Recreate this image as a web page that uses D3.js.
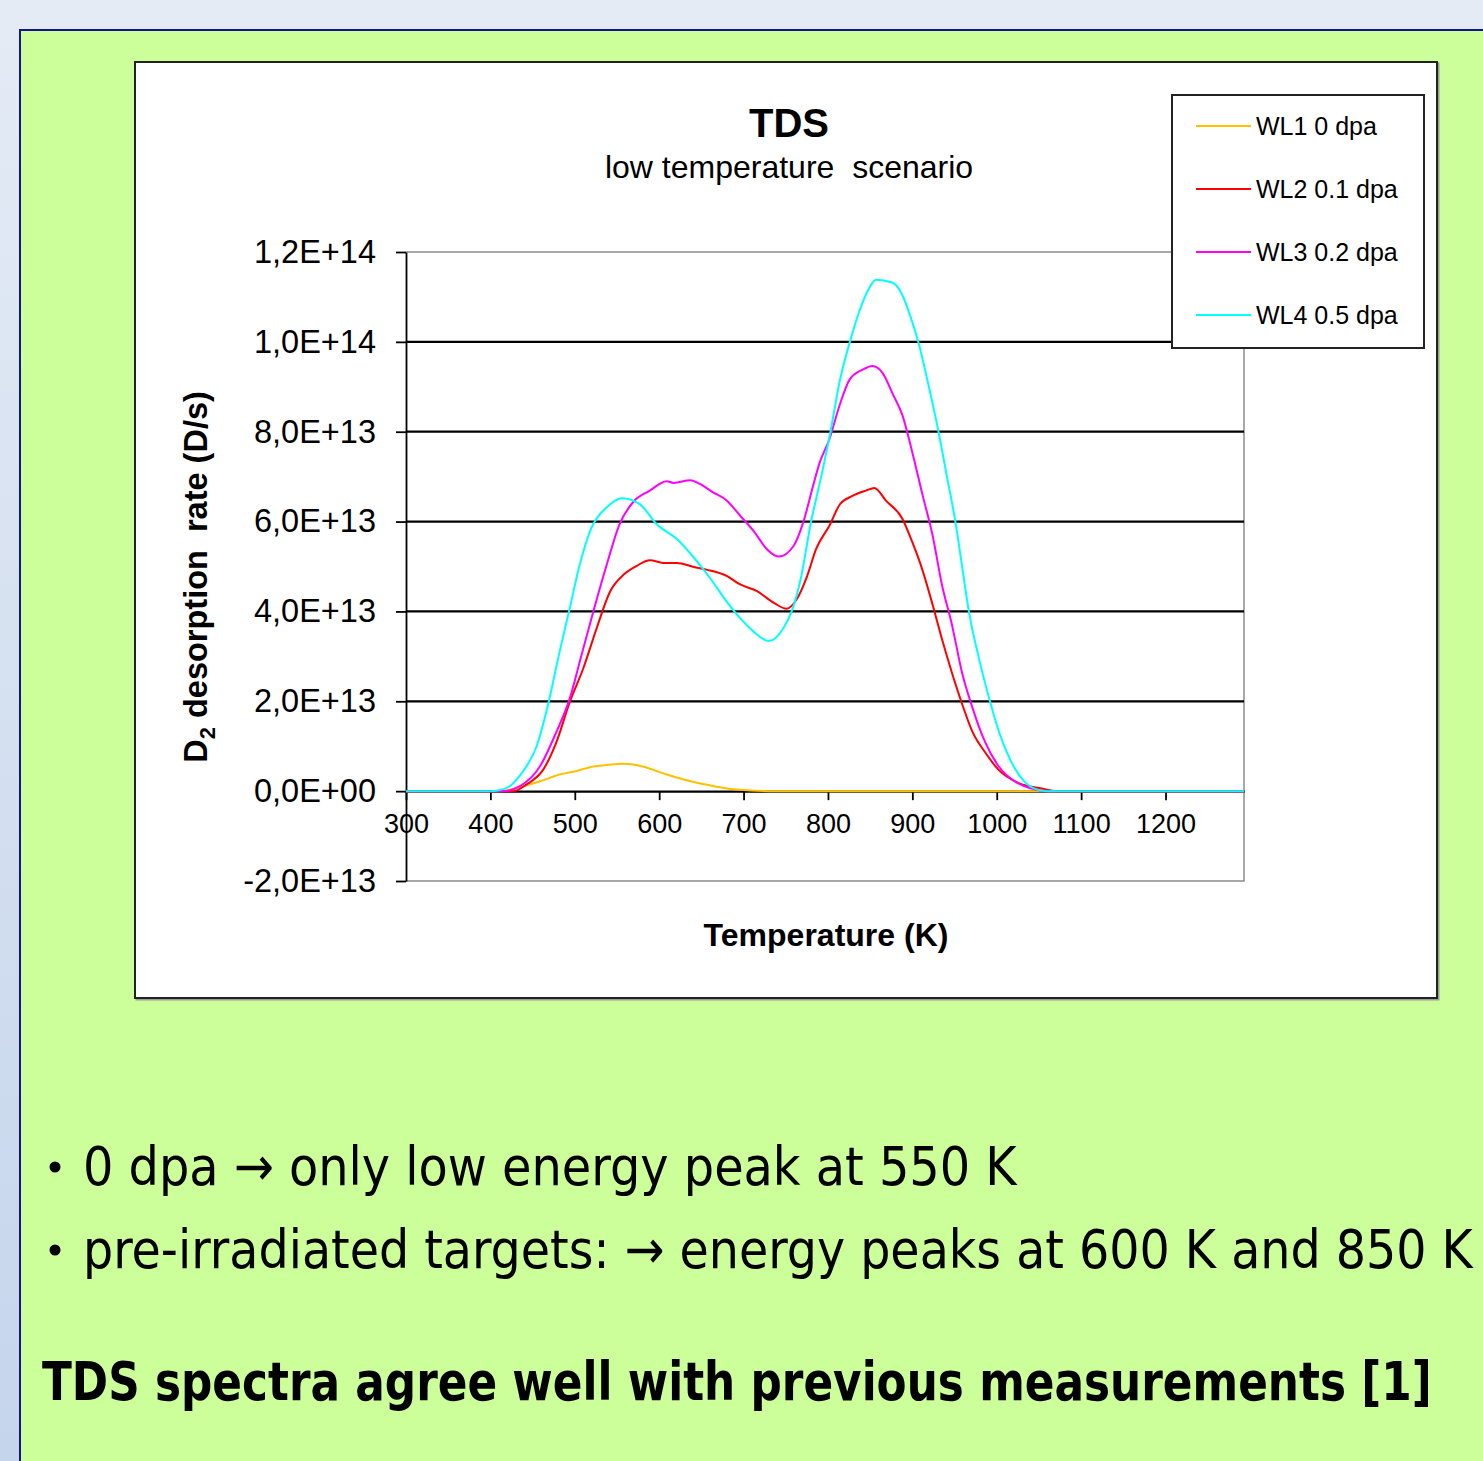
<!DOCTYPE html>
<html>
<head>
<meta charset="utf-8">
<script src="https://cdn.jsdelivr.net/npm/d3@7"></script>
<style>
  html, body { margin: 0; padding: 0; background: #e3eaf4; }
  svg { display: block; }
  text { white-space: pre; }
</style>
</head>
<body>
<svg id="slide" width="1483" height="1461"></svg>
<script>
// TDS spectra: D2 desorption rate (in units of 1E13 D/s) versus temperature (K)
const UNIT = 1e13;

const wl1Temp = [300, 410, 431, 459, 482, 502, 522, 538, 556, 573, 589, 609, 629, 649, 668, 688, 708, 740, 1293];
const wl1Rate = [0, 0, 0.07, 0.22, 0.37, 0.45, 0.55, 0.58, 0.61, 0.58, 0.5, 0.37, 0.26, 0.17, 0.1, 0.04, 0.015, 0, 0];

const wl2Temp = [300, 427, 443, 463, 478, 494, 510, 526, 542, 558, 573, 589, 605, 621, 641, 656, 680, 696, 716, 736, 751, 763, 775, 786, 802, 814, 829, 845, 855, 869, 888, 900, 912, 924, 935, 947, 959, 971, 986, 1002, 1026, 1053, 1072, 1293];
const wl2Rate = [0, 0, 0.15, 0.49, 1.08, 1.98, 2.73, 3.63, 4.45, 4.82, 5.01, 5.14, 5.08, 5.08, 4.99, 4.93, 4.79, 4.6, 4.45, 4.19, 4.06, 4.27, 4.77, 5.39, 5.92, 6.38, 6.57, 6.69, 6.75, 6.46, 6.07, 5.54, 4.92, 4.15, 3.39, 2.63, 1.94, 1.33, 0.87, 0.48, 0.18, 0.06, 0, 0];

const wl3Temp = [300, 415, 435, 459, 478, 494, 508, 522, 538, 553, 569, 589, 609, 617, 637, 648, 664, 680, 696, 712, 728, 742, 759, 771, 782, 790, 802, 814, 826, 841, 853, 865, 877, 888, 900, 912, 924, 935, 947, 959, 971, 986, 1002, 1022, 1041, 1061, 1293];
const wl3Rate = [0, 0, 0.11, 0.56, 1.31, 2.06, 3.03, 4.0, 5.05, 5.94, 6.43, 6.69, 6.9, 6.86, 6.92, 6.84, 6.65, 6.47, 6.13, 5.79, 5.38, 5.22, 5.45, 6.0, 6.77, 7.3, 7.85, 8.6, 9.17, 9.38, 9.46, 9.3, 8.83, 8.38, 7.54, 6.6, 5.69, 4.6, 3.7, 2.63, 1.87, 1.1, 0.56, 0.21, 0.06, 0, 0];

const wl4Temp = [300, 400, 410, 423, 433, 443, 455, 468, 482, 494, 506, 520, 538, 556, 577, 597, 621, 641, 660, 680, 696, 712, 730, 747, 757, 768, 780, 792, 803, 814, 826, 837, 849, 857, 876, 888, 898, 907, 919, 931, 941, 951, 959, 967, 979, 992, 1003, 1016, 1031, 1047, 1060, 1293];
const wl4Rate = [0, 0, 0.02, 0.11, 0.3, 0.56, 1.01, 1.9, 3.1, 4.07, 5.05, 5.87, 6.32, 6.52, 6.39, 5.94, 5.61, 5.2, 4.75, 4.22, 3.85, 3.55, 3.34, 3.62, 4.0, 4.75, 6.0, 7.0, 8.0, 9.13, 10.0, 10.67, 11.2, 11.38, 11.32, 11.05, 10.55, 10.0, 9.05, 8.0, 7.0, 6.0, 5.0, 4.0, 2.95, 2.0, 1.3, 0.7, 0.25, 0.04, 0, 0];

const seriesNames = ["WL1 0 dpa", "WL2 0.1 dpa", "WL3 0.2 dpa", "WL4 0.5 dpa"];
const seriesColors = ["#ffc000", "#ff0000", "#ff00ff", "#00ffff"];

const xTicks = [300, 400, 500, 600, 700, 800, 900, 1000, 1100, 1200];
const yTicks = [-2e13, 0, 2e13, 4e13, 6e13, 8e13, 1e14, 1.2e14];

const bulletLines = [
  "0 dpa \u2192 only low energy peak at 550 K",
  "pre-irradiated targets: \u2192 energy peaks at 600 K and 850 K"
];
const conclusion = "TDS spectra agree well with previous measurements [1]";

const series = [
  { temp: wl1Temp, rate: wl1Rate },
  { temp: wl2Temp, rate: wl2Rate },
  { temp: wl3Temp, rate: wl3Rate },
  { temp: wl4Temp, rate: wl4Rate }
].map((s, i) => ({
  name: seriesNames[i],
  color: seriesColors[i],
  points: s.temp.map((t, j) => ({ t, v: s.rate[j] * UNIT }))
}));

const svg = d3.select("#slide");

// slide background
const defs = svg.append("defs");
const bg = defs.append("linearGradient").attr("id", "bg").attr("x1", 0).attr("y1", 0).attr("x2", 0).attr("y2", 1);
bg.append("stop").attr("offset", "0%").attr("stop-color", "#e4ebf5");
bg.append("stop").attr("offset", "100%").attr("stop-color", "#c5d5ec");
svg.append("rect").attr("width", 1483).attr("height", 1461).attr("fill", "url(#bg)");

// green content panel
svg.append("rect")
  .attr("x", 20).attr("y", 30).attr("width", 1500).attr("height", 1500)
  .attr("fill", "#ccff99").attr("stroke", "#14148c").attr("stroke-width", 2);

// chart frame
svg.append("rect")
  .attr("x", 136.5).attr("y", 63.5).attr("width", 1302).attr("height", 936)
  .attr("fill", "none").attr("stroke", "#9a9a9a").attr("stroke-width", 2);
svg.append("rect")
  .attr("x", 135).attr("y", 62).attr("width", 1302).attr("height", 936)
  .attr("fill", "#ffffff").attr("stroke", "#222").attr("stroke-width", 2);

const x = d3.scaleLinear().domain([300, 1293]).range([406, 1244]);
const y = d3.scaleLinear().domain([-2e13, 1.2e14]).range([881, 252]);

const fmtE = v => {
  const [m, e] = v.toExponential(1).split("e");
  const sign = e[0] === "-" ? "-" : "+";
  const ex = e.replace(/[+-]/, "").padStart(2, "0");
  return m.replace(".", ",") + "E" + sign + ex;
};

const chartFont = "'Liberation Sans', Arial, sans-serif";

// plot area border (top, right, bottom)
svg.append("path")
  .attr("d", `M${x(300)},${y(1.2e14)}H${x(1293)}V${y(-2e13)}H${x(300)}`)
  .attr("fill", "none").attr("stroke", "#8c8c8c").attr("stroke-width", 1.5);

// horizontal gridlines
svg.append("g").selectAll("line")
  .data(yTicks.filter(v => v > 0 && v < 1.2e14))
  .join("line")
  .attr("x1", x(300)).attr("x2", x(1293))
  .attr("y1", d => y(d)).attr("y2", d => y(d))
  .attr("stroke", "#000").attr("stroke-width", 2.2);

// y axis
const yAxis = svg.append("g")
  .attr("transform", `translate(${x(300)},0)`)
  .call(d3.axisLeft(y).tickValues(yTicks).tickFormat(fmtE).tickSizeInner(10).tickSizeOuter(0).tickPadding(20));
yAxis.select(".domain").attr("stroke", "#000").attr("stroke-width", 1.8);
yAxis.selectAll(".tick line").attr("stroke", "#000").attr("stroke-width", 1.8);
yAxis.selectAll(".tick text")
  .attr("font-family", chartFont).attr("font-size", 32.5).attr("fill", "#000");

// x axis at zero
const xAxis = svg.append("g")
  .attr("transform", `translate(0,${y(0)})`)
  .call(d3.axisBottom(x).tickValues(xTicks).tickFormat(d3.format("d")).tickSizeInner(9).tickSizeOuter(0).tickPadding(14));
xAxis.select(".domain").attr("stroke", "#000").attr("stroke-width", 2.2);
xAxis.selectAll(".tick line").attr("stroke", "#000").attr("stroke-width", 1.8);
xAxis.selectAll(".tick text")
  .attr("font-family", chartFont).attr("font-size", 27).attr("fill", "#000");

// spectra
const line = d3.line().x(d => x(d.t)).y(d => y(d.v)).curve(d3.curveMonotoneX);
svg.append("g").selectAll("path")
  .data(series)
  .join("path")
  .attr("d", d => line(d.points))
  .attr("fill", "none")
  .attr("stroke", d => d.color)
  .attr("stroke-width", 2)
  .attr("stroke-linejoin", "round");

// titles
svg.append("text").attr("x", 789).attr("y", 137).attr("text-anchor", "middle")
  .attr("font-family", chartFont).attr("font-weight", "bold").attr("font-size", 40)
  .text("TDS");
svg.append("text").attr("x", 789).attr("y", 178).attr("text-anchor", "middle")
  .attr("font-family", chartFont).attr("font-size", 32)
  .text("low temperature  scenario");
svg.append("text").attr("x", 826).attr("y", 946).attr("text-anchor", "middle")
  .attr("font-family", chartFont).attr("font-weight", "bold").attr("font-size", 32)
  .text("Temperature (K)");
const yTitle = svg.append("text")
  .attr("transform", "translate(207,577) rotate(-90)")
  .attr("text-anchor", "middle")
  .attr("font-family", chartFont).attr("font-weight", "bold").attr("font-size", 32.5);
yTitle.append("tspan").text("D");
yTitle.append("tspan").attr("font-size", 22).attr("dy", 8).text("2");
yTitle.append("tspan").attr("dy", -8).text(" desorption  rate (D/s)");

// legend
const legend = svg.append("g");
legend.append("rect")
  .attr("x", 1172).attr("y", 95).attr("width", 252).attr("height", 253)
  .attr("fill", "#fff").attr("stroke", "#222").attr("stroke-width", 2);
const legendRows = [126, 189, 252, 315];
const item = legend.selectAll("g.item").data(series).join("g").attr("class", "item")
  .attr("transform", (d, i) => `translate(0,${legendRows[i]})`);
item.append("line").attr("x1", 1196).attr("x2", 1251)
  .attr("stroke", d => d.color).attr("stroke-width", 2);
item.append("text").attr("x", 1256).attr("y", 9)
  .attr("font-family", chartFont).attr("font-size", 25).attr("fill", "#000")
  .text(d => d.name);

// slide text: narrow, tall lettering fitted to each line's width
const slideFont = "'DejaVu Sans Condensed', 'DejaVu Sans', sans-serif";
const BASE = 54;
function fittedText(txt, x0, baseline, width, bold) {
  const t = svg.append("text")
    .attr("font-family", slideFont)
    .attr("font-weight", bold ? "bold" : "normal")
    .attr("font-size", BASE).attr("fill", "#000")
    .text(txt);
  const w = t.node().getComputedTextLength();
  const fs = BASE * width / w;
  t.attr("font-size", fs)
    .attr("transform", `translate(${x0},${baseline}) scale(1,${BASE / fs})`);
  return t;
}
const bulletY = [1185, 1268];
const bulletW = [934, 1390];
bulletLines.forEach((txt, i) => {
  svg.append("circle").attr("cx", 55).attr("cy", bulletY[i] - 18).attr("r", 5.5).attr("fill", "#000");
  fittedText(txt, 83, bulletY[i], bulletW[i], false);
});
fittedText(conclusion, 42, 1400, 1390, true);
</script>
</body>
</html>
